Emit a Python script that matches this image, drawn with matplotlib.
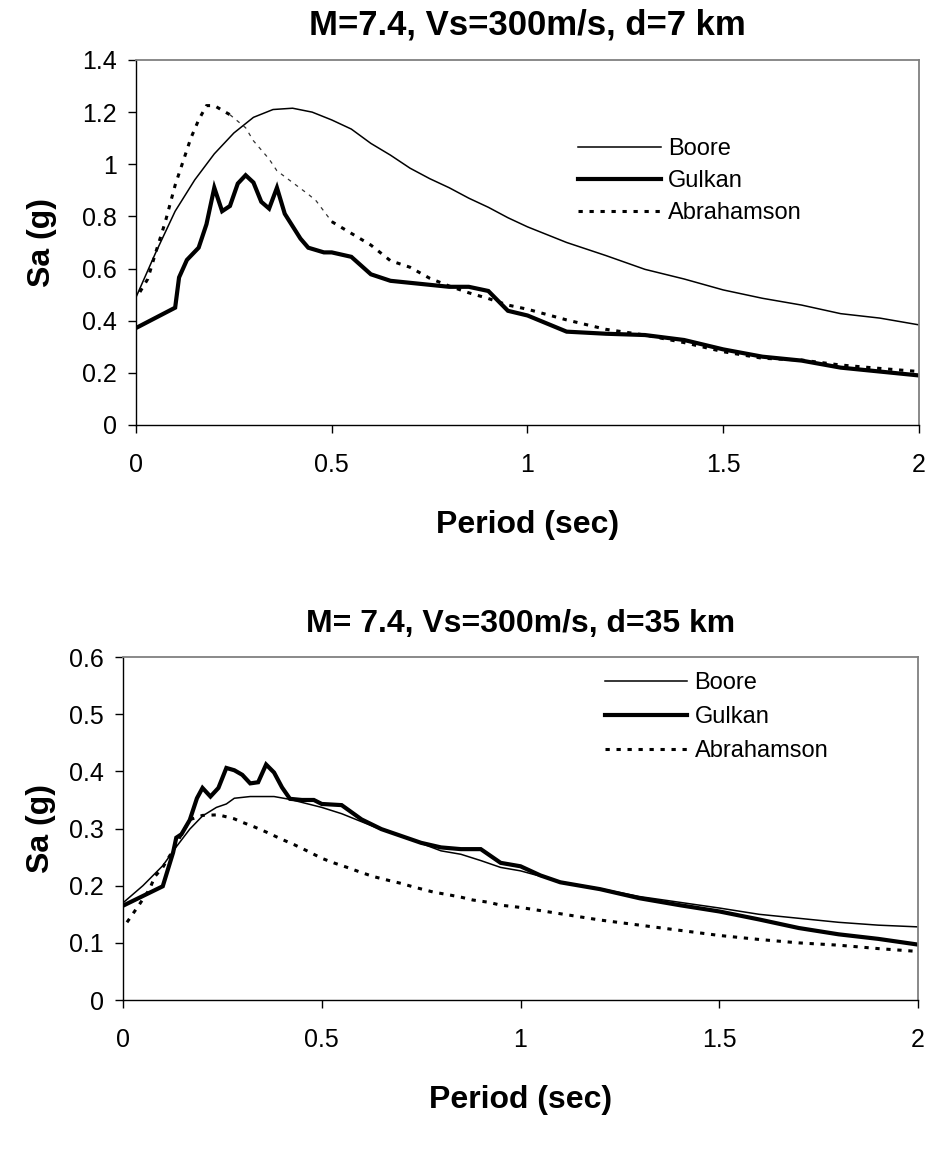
import matplotlib
matplotlib.use("Agg")
import matplotlib.pyplot as plt
from matplotlib.ticker import FuncFormatter, MultipleLocator

plt.rcParams['font.family'] = ['Liberation Sans', 'DejaVu Sans']

# ---- top chart: M=7.4, Vs=300m/s, d=7 km ----
t1_boore = [0, 0.05, 0.1, 0.15, 0.2, 0.25, 0.3, 0.35, 0.4, 0.45, 0.5, 0.55, 0.6, 0.65,
            0.7, 0.75, 0.8, 0.85, 0.9, 0.95, 1.0, 1.1, 1.2, 1.3, 1.4, 1.5, 1.6, 1.7,
            1.8, 1.9, 2.0]
sa1_boore = [0.49, 0.66, 0.82, 0.94, 1.04, 1.12, 1.18, 1.21, 1.215, 1.2, 1.17, 1.135,
             1.08, 1.035, 0.985, 0.945, 0.91, 0.87, 0.835, 0.795, 0.76, 0.7, 0.65,
             0.597, 0.56, 0.518, 0.486, 0.46, 0.427, 0.41, 0.384]

t1_gulkan = [0, 0.1, 0.11, 0.13, 0.16, 0.18, 0.2, 0.22, 0.24, 0.26, 0.28, 0.3, 0.32,
             0.34, 0.36, 0.38, 0.42, 0.44, 0.48, 0.5, 0.55, 0.6, 0.65, 0.8, 0.85, 0.9,
             0.95, 1.0, 1.1, 1.2, 1.3, 1.4, 1.5, 1.6, 1.7, 1.8, 1.9, 2.0]
sa1_gulkan = [0.372, 0.45, 0.566, 0.633, 0.68, 0.77, 0.91, 0.82, 0.84, 0.926, 0.958,
              0.93, 0.856, 0.83, 0.91, 0.81, 0.715, 0.68, 0.662, 0.662, 0.645, 0.578,
              0.553, 0.53, 0.53, 0.514, 0.438, 0.42, 0.358, 0.35, 0.345, 0.326, 0.29,
              0.262, 0.247, 0.22, 0.205, 0.19]

t1_abra = [0.01, 0.03, 0.05, 0.075, 0.1, 0.12, 0.14, 0.16, 0.18, 0.2, 0.24, 0.28, 0.3,
           0.34, 0.36, 0.4, 0.44, 0.46, 0.5, 0.55, 0.6, 0.65, 0.7, 0.75, 0.8, 0.85,
           0.9, 0.95, 1.0, 1.1, 1.2, 1.3, 1.4, 1.5, 1.6, 1.7, 1.8, 1.9, 2.0]
sa1_abra = [0.51, 0.56, 0.66, 0.78, 0.92, 1.01, 1.1, 1.17, 1.225, 1.225, 1.19, 1.14,
            1.09, 1.02, 0.975, 0.93, 0.885, 0.86, 0.78, 0.735, 0.69, 0.63, 0.605,
            0.563, 0.533, 0.507, 0.485, 0.46, 0.444, 0.403, 0.367, 0.345, 0.316,
            0.281, 0.256, 0.249, 0.23, 0.217, 0.205]

# ---- bottom chart: M= 7.4, Vs=300m/s, d=35 km ----
t2_boore = [0, 0.05, 0.1, 0.134, 0.168, 0.2, 0.235, 0.26, 0.28, 0.32, 0.38, 0.42, 0.5,
            0.55, 0.6, 0.65, 0.7, 0.75, 0.8, 0.85, 0.9, 0.95, 1.0, 1.1, 1.2, 1.3, 1.4,
            1.5, 1.6, 1.7, 1.8, 1.9, 2.0]
sa2_boore = [0.17, 0.2, 0.235, 0.268, 0.299, 0.322, 0.337, 0.343, 0.353, 0.356, 0.356,
             0.351, 0.337, 0.326, 0.312, 0.298, 0.287, 0.274, 0.261, 0.255, 0.244,
             0.232, 0.226, 0.207, 0.195, 0.181, 0.171, 0.161, 0.15, 0.143, 0.136,
             0.131, 0.128]

t2_gulkan = [0, 0.1, 0.126, 0.134, 0.147, 0.168, 0.186, 0.2, 0.22, 0.24, 0.26, 0.28,
             0.3, 0.32, 0.34, 0.36, 0.38, 0.4, 0.42, 0.45, 0.48, 0.5, 0.55, 0.6, 0.65,
             0.7, 0.75, 0.8, 0.85, 0.9, 0.95, 1.0, 1.05, 1.1, 1.2, 1.3, 1.4, 1.5, 1.6,
             1.7, 1.8, 1.9, 2.0]
sa2_gulkan = [0.165, 0.199, 0.258, 0.284, 0.29, 0.315, 0.353, 0.371, 0.356, 0.371,
              0.406, 0.402, 0.394, 0.379, 0.381, 0.412, 0.398, 0.372, 0.352, 0.35,
              0.35, 0.343, 0.341, 0.316, 0.299, 0.287, 0.275, 0.267, 0.264, 0.264,
              0.24, 0.234, 0.218, 0.206, 0.194, 0.178, 0.166, 0.155, 0.141, 0.126,
              0.115, 0.107, 0.097]

t2_abra = [0.01, 0.04, 0.067, 0.08, 0.1, 0.125, 0.15, 0.17, 0.2, 0.24, 0.28, 0.3, 0.33,
           0.36, 0.4, 0.43, 0.46, 0.5, 0.53, 0.56, 0.6, 0.63, 0.67, 0.7, 0.73, 0.78,
           0.82, 0.85, 0.88, 0.92, 0.95, 1.0, 1.1, 1.2, 1.3, 1.4, 1.5, 1.6, 1.7, 1.8,
           1.9, 2.0]
sa2_abra = [0.136, 0.166, 0.194, 0.216, 0.232, 0.261, 0.294, 0.316, 0.323, 0.324,
            0.317, 0.311, 0.303, 0.294, 0.281, 0.272, 0.262, 0.248, 0.24, 0.233, 0.223,
            0.216, 0.209, 0.204, 0.198, 0.189, 0.184, 0.18, 0.175, 0.171, 0.166,
            0.162, 0.151, 0.14, 0.131, 0.122, 0.113, 0.106, 0.1, 0.096, 0.09, 0.085]

labels = ["Boore", "Gulkan", "Abrahamson"]


def fmt(v, pos):
    return "%g" % round(v, 3)


def draw(ax, title, tsize, ymax, ystep, curves, leg_xy, leg_space, ylabpad, thin=None):
    (tb, sb), (tg, sg), (ta, sa) = curves
    dots = (0, (1.4, 2.2))
    ax.plot(tb, sb, color="black", lw=1.1, label=labels[0])
    ax.plot(tg, sg, color="black", lw=3.0, solid_joinstyle="miter", label=labels[1])
    if thin is None:
        ax.plot(ta, sa, color="black", lw=2.2, ls=dots, label=labels[2])
    else:
        # the original draws part of this curve with fine dashes
        i0, i1 = thin
        ax.plot(ta[:i0 + 1], sa[:i0 + 1], color="black", lw=2.2, ls=dots, label=labels[2])
        ax.plot(ta[i0:i1 + 1], sa[i0:i1 + 1], color="#333333", lw=0.9, ls=(0, (3, 4)))
        ax.plot(ta[i1:], sa[i1:], color="black", lw=2.2, ls=dots)

    ax.set_xlim(0, 2)
    ax.set_ylim(0, ymax)
    ax.xaxis.set_major_locator(MultipleLocator(0.5))
    ax.yaxis.set_major_locator(MultipleLocator(ystep))
    ax.xaxis.set_major_formatter(FuncFormatter(fmt))
    ax.yaxis.set_major_formatter(FuncFormatter(fmt))
    ax.tick_params(direction="out", length=6, width=1, labelsize=18, colors="black")
    ax.tick_params(axis="x", pad=14)
    ax.tick_params(axis="y", pad=8)

    for s in ["top", "right"]:
        ax.spines[s].set_color("#808080")
        ax.spines[s].set_linewidth(1.3)
    for s in ["left", "bottom"]:
        ax.spines[s].set_color("black")
        ax.spines[s].set_linewidth(1.0)

    ax.set_title(title, fontsize=tsize, fontweight="bold", pad=18)
    ax.set_xlabel("Period (sec)", fontsize=23, fontweight="bold", labelpad=24)
    ax.set_ylabel("Sa (g)", fontsize=23, fontweight="bold", labelpad=ylabpad)

    ax.legend(loc="upper left", bbox_to_anchor=leg_xy, frameon=False, fontsize=17,
              handlelength=3.5, handletextpad=0.3, labelspacing=leg_space,
              borderpad=0, borderaxespad=0)


fig = plt.figure(figsize=(9.29, 11.58), dpi=100)

ax1 = fig.add_axes([0.1464, 0.6330, 0.8428, 0.3152])
draw(ax1, "M=7.4, Vs=300m/s, d=7 km", 25, 1.4, 0.2,
     [(t1_boore, sa1_boore), (t1_gulkan, sa1_gulkan), (t1_abra, sa1_abra)],
     (0.565, 0.785), 0.42, 18, thin=(10, 18))

ax2 = fig.add_axes([0.1324, 0.1364, 0.8558, 0.2962])
draw(ax2, "M= 7.4, Vs=300m/s, d=35 km", 23, 0.6, 0.1,
     [(t2_boore, sa2_boore), (t2_gulkan, sa2_gulkan), (t2_abra, sa2_abra)],
     (0.606, 0.955), 0.5, 9)

fig.savefig("out.png", dpi=100)
